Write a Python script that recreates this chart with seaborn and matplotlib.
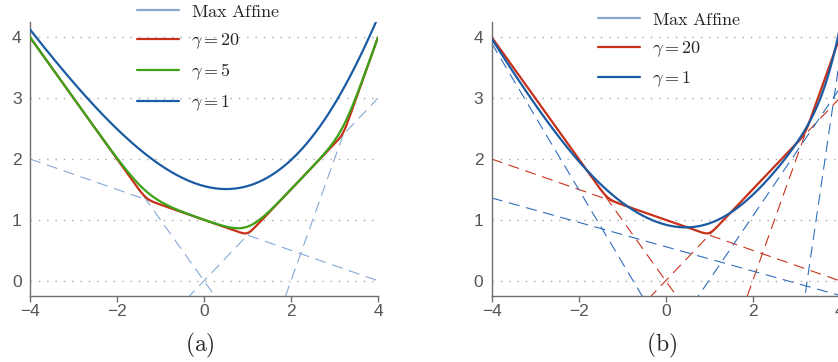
import numpy as np
import matplotlib
matplotlib.use('Agg')
import matplotlib.pyplot as plt
from matplotlib.lines import Line2D
import seaborn as sns

sns.set_theme(style='ticks')
plt.rcParams['font.family'] = ['Liberation Sans', 'DejaVu Sans']
plt.rcParams['mathtext.fontset'] = 'cm'

#####DATA############################################

# affine pieces y = slope*x + intercept
redSlopes = [-1.0, -0.25, 0.75, 2.0]
redIntercepts = [0.0, 1.0, 0.0, -4.0]
blueSlopes = [-1.2, -0.2, 1.05, 4.87]
blueIntercepts = [-0.9, 0.56, -1.04, -15.84]

gammasA = [20, 5, 1]
gammasB = [20, 1]

xTicks = [-4, -2, 0, 2, 4]
yTicks = [0, 1, 2, 3, 4]

#####COLOURS##########################################

lightBlue = '#86a8d3'
red = '#c8321b'
green = '#3ca318'
blue = '#1b5ba3'
dashBlue = '#2f6dbb'

#####FUNCTIONS########################################

def smoothMax(x, slopes, intercepts, gamma):
    z = gamma * (np.outer(x, slopes) + np.array(intercepts))
    m = z.max(axis=1)
    return (m + np.log(np.exp(z - m[:, None]).sum(axis=1))) / gamma

def styleAxes(ax):
    ax.set_xlim(-4, 4)
    ax.set_ylim(-0.25, 4.25)
    ax.set_xticks(xTicks)
    ax.set_yticks(yTicks)
    ax.yaxis.grid(True, color='#a8a8a8', linestyle=(0, (1, 5)), linewidth=1.0)
    ax.xaxis.grid(False)
    ax.set_axisbelow(True)
    sns.despine(ax=ax)
    for s in ['left', 'bottom']:
        ax.spines[s].set_color('#707070')
        ax.spines[s].set_linewidth(1.0)
    ax.tick_params(axis='x', length=4, width=1, color='#707070', labelcolor='#555555', labelsize=12.5, pad=1.5)
    ax.tick_params(axis='y', length=0, labelcolor='#555555', labelsize=12.5, pad=6)
    ax.set_xlabel('')
    ax.set_ylabel('')

xs = np.linspace(-4, 4, 600)
dash = (0, (10, 6))

fig = plt.figure(figsize=(8.38, 3.62), dpi=100)
axA = fig.add_axes([30/838, 66/362, 348/838, 274/362])
axB = fig.add_axes([491.7/838, 66/362, 348/838, 274/362])

#####PANEL (a)########################################

for s, b in zip(redSlopes, redIntercepts):
    sns.lineplot(x=xs, y=s*xs + b, ax=axA, color=lightBlue, lw=0.8, linestyle=dash, zorder=2)

colsA = [red, green, blue]
for g, c in zip(gammasA, colsA):
    sns.lineplot(x=xs, y=smoothMax(xs, redSlopes, redIntercepts, g), ax=axA, color=c, lw=1.6, zorder=3)

styleAxes(axA)
handlesA = [Line2D([], [], color=lightBlue, lw=1.6)] + [Line2D([], [], color=c, lw=1.6) for c in colsA]
labelsA = [r'$\mathrm{Max\ Affine}$'] + [r'$\gamma = %d$' % g for g in gammasA]
axA.legend(handlesA, labelsA, loc='upper left', bbox_to_anchor=(137/838, 0.99),
           bbox_transform=fig.transFigure, frameon=False, fontsize=13, borderpad=0,
           handlelength=2.3, handletextpad=0.7, labelspacing=0.6, borderaxespad=0)

#####PANEL (b)########################################

for s, b in zip(redSlopes, redIntercepts):
    sns.lineplot(x=xs, y=s*xs + b, ax=axB, color=red, lw=0.8, linestyle=dash, zorder=2)
for s, b in zip(blueSlopes, blueIntercepts):
    sns.lineplot(x=xs, y=s*xs + b, ax=axB, color=dashBlue, lw=0.8, linestyle=dash, zorder=2)

sns.lineplot(x=xs, y=smoothMax(xs, redSlopes, redIntercepts, gammasB[0]), ax=axB, color=red, lw=1.6, zorder=3)
sns.lineplot(x=xs, y=smoothMax(xs, blueSlopes, blueIntercepts, gammasB[1]), ax=axB, color=blue, lw=1.6, zorder=4)

styleAxes(axB)
handlesB = [Line2D([], [], color=lightBlue, lw=1.6), Line2D([], [], color=red, lw=1.6), Line2D([], [], color=blue, lw=1.6)]
labelsB = [r'$\mathrm{Max\ Affine}$'] + [r'$\gamma = %d$' % g for g in gammasB]
axB.legend(handlesB, labelsB, loc='upper left', bbox_to_anchor=(598/838, 0.968),
           bbox_transform=fig.transFigure, frameon=False, fontsize=13, borderpad=0,
           handlelength=2.3, handletextpad=0.7, labelspacing=0.6, borderaxespad=0)

#####CAPTIONS#########################################

fig.text(200/838, 1 - 345/362, r'$\mathrm{(a)}$', ha='center', va='center', fontsize=17)
fig.text(662/838, 1 - 345/362, r'$\mathrm{(b)}$', ha='center', va='center', fontsize=17)

fig.savefig('out.png', dpi=100)
plt.close()
